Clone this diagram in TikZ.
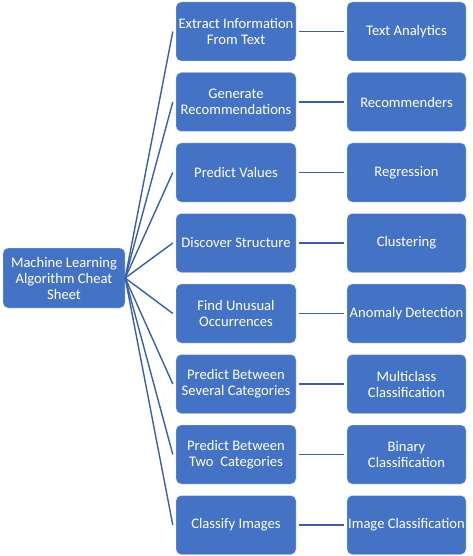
\documentclass[tikz,border=0pt]{standalone}
\usepackage{fontspec}
\setmainfont{Carlito}
\usepackage{tikz}
\definecolor{boxblue}{HTML}{4472C4}
\definecolor{lineblue}{HTML}{3A5FA8}

\begin{document}
\begin{tikzpicture}[x=1pt, y=-1pt,
	box/.style={fill=boxblue, draw=white!80!boxblue, line width=0.4pt, rounded corners=5pt,
		minimum width=120pt, minimum height=59pt, text=white, align=center,
		font=\fontsize{14.6}{16}\selectfont, inner sep=1pt},
	link/.style={draw=lineblue, line width=1.4pt}]
			\useasboundingbox (0,0) rectangle (473,556);
			\node[box, minimum width=122pt, minimum height=60pt] (root) at (64,278)
			{Machine Learning\\Algorithm Cheat\\Sheet};
			% tasks
			\node[box] (text) at (236,31.5) {Extract Information\\From Text};
			\node[box] (recom) at (236,102) {Generate\\Recommendations};
			\node[box] (values) at (236,172.5) {Predict Values};
			\node[box] (struct) at (236,243) {Discover Structure};
			\node[box] (unusual) at (236,313.5) {Find Unusual\\Occurrences};
			\node[box] (several) at (236,384) {Predict Between\\Several Categories};
			\node[box] (two) at (236,454.5) {Predict Between\\Two~ Categories};
			\node[box] (images) at (236,525) {Classify Images};
			% algorithms
			\node[box, minimum width=119pt] (analytics) at (406.5,31.5) {Text Analytics};
			\node[box, minimum width=119pt] (recommenders) at (406.5,102) {Recommenders};
			\node[box, minimum width=119pt] (regression) at (406.5,172.5) {Regression};
			\node[box, minimum width=119pt] (clustering) at (406.5,243) {Clustering};
			\node[box, minimum width=119pt] (anomaly) at (406.5,313.5) {Anomaly Detection};
			\node[box, minimum width=119pt] (multiclass) at (406.5,384) {Multiclass\\Classification};
			\node[box, minimum width=119pt] (binary) at (406.5,454.5) {Binary\\Classification};
			\node[box, minimum width=119pt] (imageclass) at (406.5,525) {Image Classification};
			% root to tasks
			\draw[link] (root.east) -- ([xshift=-3pt]text.west);
			\draw[link] (root.east) -- ([xshift=-3pt]recom.west);
			\draw[link] (root.east) -- ([xshift=-3pt]values.west);
			\draw[link] (root.east) -- ([xshift=-3pt]struct.west);
			\draw[link] (root.east) -- ([xshift=-3pt]unusual.west);
			\draw[link] (root.east) -- ([xshift=-3pt]several.west);
			\draw[link] (root.east) -- ([xshift=-3pt]two.west);
			\draw[link] (root.east) -- ([xshift=-3pt]images.west);
			% tasks to algorithms
			\draw[link] ([xshift=3pt]text.east) -- ([xshift=-3pt]analytics.west);
			\draw[link] ([xshift=3pt]recom.east) -- ([xshift=-3pt]recommenders.west);
			\draw[link] ([xshift=3pt]values.east) -- ([xshift=-3pt]regression.west);
			\draw[link] ([xshift=3pt]struct.east) -- ([xshift=-3pt]clustering.west);
			\draw[link] ([xshift=3pt]unusual.east) -- ([xshift=-3pt]anomaly.west);
			\draw[link] ([xshift=3pt]several.east) -- ([xshift=-3pt]multiclass.west);
			\draw[link] ([xshift=3pt]two.east) -- ([xshift=-3pt]binary.west);
			\draw[link] ([xshift=3pt]images.east) -- ([xshift=-3pt]imageclass.west);
			\end{tikzpicture}
\end{document}
